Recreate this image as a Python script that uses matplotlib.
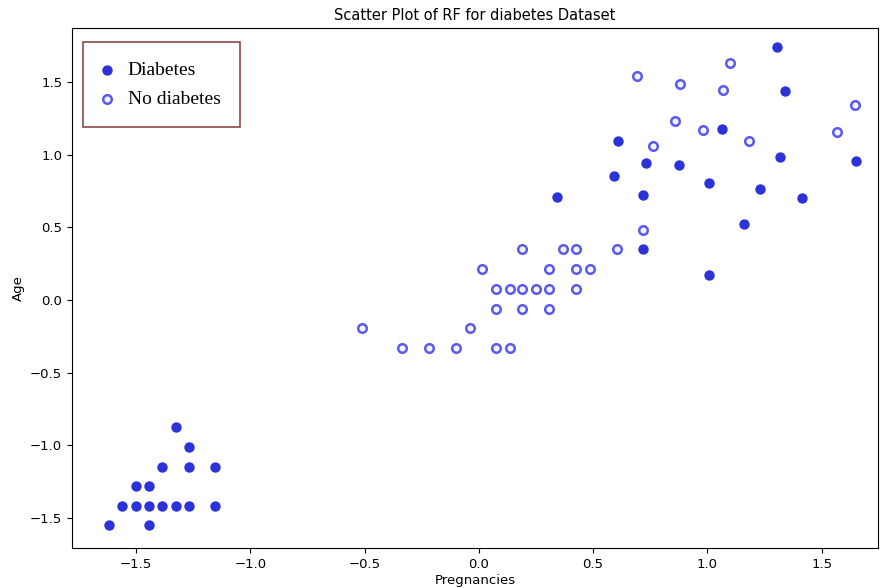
import numpy as np
import matplotlib
matplotlib.use('Agg')
import matplotlib.pyplot as plt

# Pacientes com diabetes (valores padronizados)
diab_preg = [-1.327, -1.269, -1.385, -1.269, -1.155, -1.502, -1.444,
             -1.560, -1.502, -1.444, -1.385, -1.327, -1.269, -1.155,
             -1.619, -1.444,
             0.341, 1.304, 1.339, 1.066, 0.611, 1.317, 0.731, 0.876, 0.591,
             1.652, 1.005, 1.228, 0.720, 1.413, 1.161, 0.720, 1.009]
diab_age = [-0.872, -1.010, -1.147, -1.147, -1.147, -1.280, -1.280,
            -1.418, -1.418, -1.418, -1.418, -1.418, -1.418, -1.418,
            -1.551, -1.551,
            0.709, 1.741, 1.438, 1.179, 1.096, 0.982, 0.941, 0.929, 0.856,
            0.959, 0.805, 0.762, 0.723, 0.700, 0.525, 0.349, 0.170]

# Pacientes sem diabetes
nodiab_preg = [0.191, 0.369, 0.427, 0.604, 0.016, 0.308, 0.427, 0.486,
               0.074, 0.136, 0.191, 0.252, 0.308, 0.427, 0.074, 0.191, 0.308,
               -0.509, -0.039, -0.334, -0.217, -0.101, 0.074, 0.136,
               1.097, 0.694, 0.878, 1.067, 1.645, 0.857, 0.980, 1.565,
               0.763, 1.184, 0.720]
nodiab_age = [0.351, 0.351, 0.351, 0.351, 0.213, 0.213, 0.213, 0.213,
              0.076, 0.076, 0.076, 0.076, 0.076, 0.076, -0.060, -0.060, -0.060,
              -0.193, -0.193, -0.330, -0.330, -0.330, -0.330, -0.330,
              1.633, 1.542, 1.491, 1.445, 1.344, 1.232, 1.168, 1.159,
              1.062, 1.094, 0.484]

fig = plt.figure(figsize=(8.83, 5.88), dpi=100)
ax = fig.add_axes([0.0815, 0.068, 0.9125, 0.884])

ax.scatter(diab_preg, diab_age, s=42, color='#2b33d8', edgecolors='#2b33d8',
           label='Diabetes', zorder=3)
ax.scatter(nodiab_preg, nodiab_age, s=38, facecolors='#f4f4f8',
           edgecolors='#5a5af0', linewidths=1.8, label='No diabetes', zorder=3)

ax.set_xlim(-1.78, 1.745)
ax.set_ylim(-1.707, 1.872)
ax.set_xticks([-1.5, -1.0, -0.5, 0.0, 0.5, 1.0, 1.5])
ax.set_yticks([-1.5, -1.0, -0.5, 0.0, 0.5, 1.0, 1.5])
ax.tick_params(labelsize=9.5)

ax.set_title('Scatter Plot of RF for diabetes Dataset', fontsize=10.5)
ax.set_xlabel('Pregnancies', fontsize=9.5, labelpad=2)
ax.set_ylabel('Age', fontsize=9.5)

# legenda com fonte serifada e moldura marrom
leg = ax.legend(loc='upper left', bbox_to_anchor=(0.0136, 0.973),
                borderaxespad=0,
                prop={'family': 'Liberation Serif', 'size': 14},
                fancybox=False, framealpha=1, edgecolor='#8b4a4a',
                borderpad=1.0, handletextpad=0.8, labelspacing=0.57,
                handlelength=0.5)
leg.get_frame().set_linewidth(1.2)

fig.savefig('out.png', dpi=100)
